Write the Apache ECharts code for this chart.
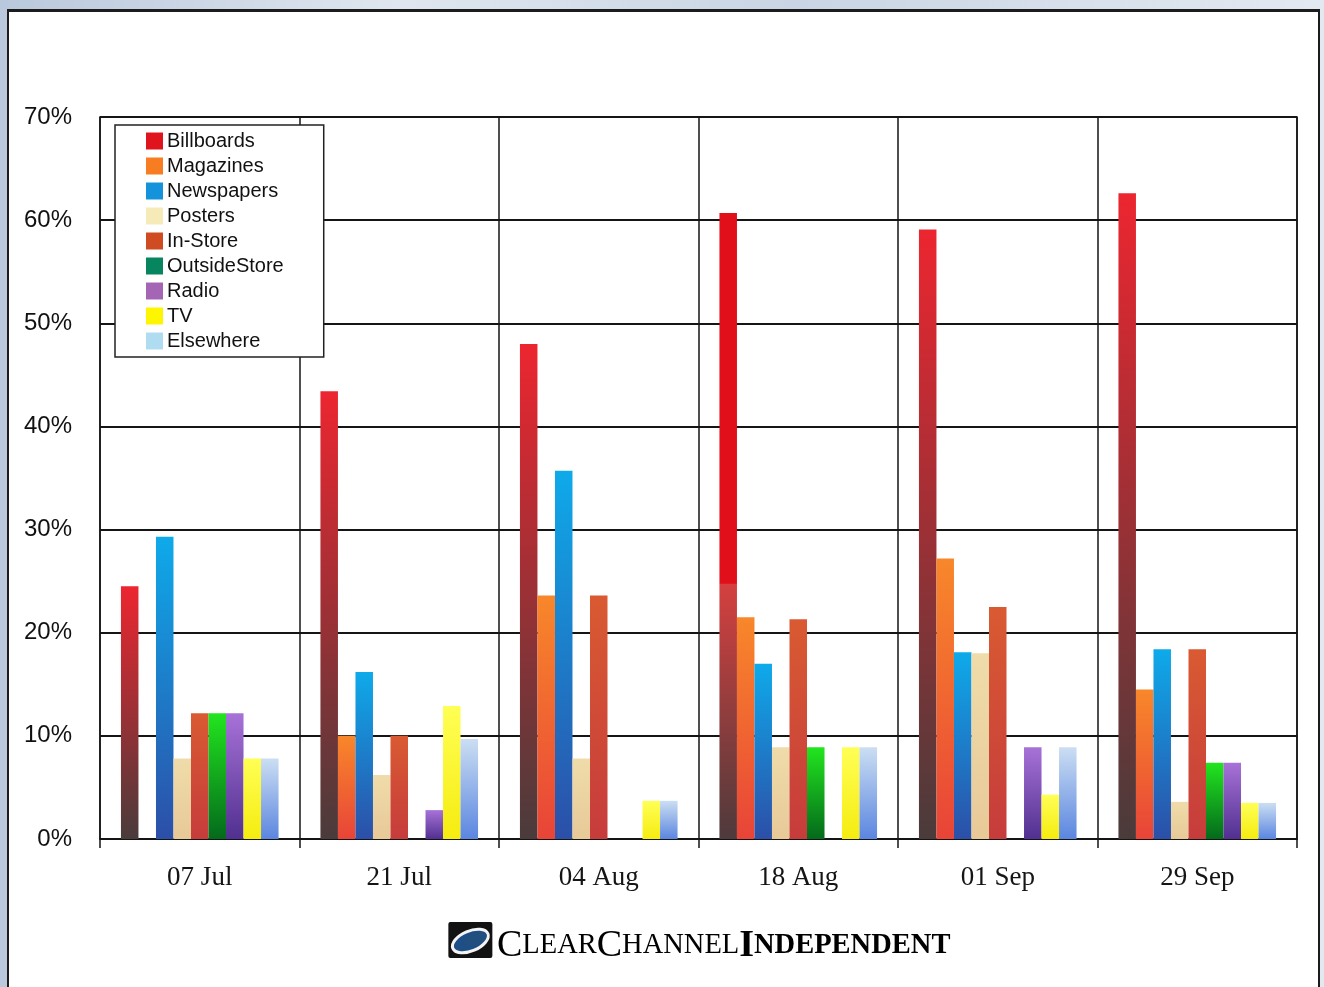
<!DOCTYPE html>
<html>
<head>
<meta charset="utf-8">
<script src="https://cdn.jsdelivr.net/npm/echarts@6/dist/echarts.min.js"></script>
<style>
  html, body { margin: 0; padding: 0; }
  body {
    width: 1324px; height: 987px; overflow: hidden;
    background: linear-gradient(90deg, #b9c8dc 0%, #dfe6ef 30%, #c9d5e4 60%, #e3e9f1 100%);
    position: relative;
  }
  #panel {
    position: absolute; left: 7px; top: 9px; width: 1309px; height: 990px;
    background: #fff; border: 2px solid #1c1c1c; border-top-width: 3px;
  }
  #chart { position: absolute; left: 0; top: 0; width: 1324px; height: 987px; }
</style>
</head>
<body>
<div id="panel"></div>
<div id="chart"></div>
<script>
// categories and tick labels
const categories = ["07 Jul", "21 Jul", "04 Aug", "18 Aug", "01 Sep", "29 Sep"];
const yTicks = [0, 10, 20, 30, 40, 50, 60, 70];

// series values (percent)
const billboards   = [24.5, 43.4, 48.0, 60.7, 59.1, 62.6];
const magazines    = [0, 10.0, 23.6, 21.5, 27.2, 14.5];
const newspapers   = [29.3, 16.2, 35.7, 17.0, 18.1, 18.4];
const posters      = [7.8, 6.2, 7.8, 8.9, 18.0, 3.6];
const inStore      = [12.2, 10.0, 23.6, 21.3, 22.5, 18.4];
const outsideStore = [12.2, 0, 0, 8.9, 0, 7.4];
const radio        = [12.2, 2.8, 0, 0, 8.9, 7.4];
const tv           = [7.8, 12.9, 3.7, 8.9, 4.3, 3.5];
const elsewhere    = [7.8, 9.7, 3.7, 8.9, 8.9, 3.5];
// 18 Aug billboards bar shows an older shaded part up to this level
const billboardsShaded = [null, null, null, 24.8, null, null];

const seriesDefs = [
  { name: "Billboards",   data: billboards,   top: "#ec2630", bottom: "#4a3b3b", legend: "#e0141c" },
  { name: "Magazines",    data: magazines,    top: "#f8872a", bottom: "#e84438", legend: "#f77c22" },
  { name: "Newspapers",   data: newspapers,   top: "#0eaaea", bottom: "#2c4fa8", legend: "#1592dc" },
  { name: "Posters",      data: posters,      top: "#efdcaa", bottom: "#e8c998", legend: "#f6ebb8" },
  { name: "In-Store",     data: inStore,      top: "#d95a32", bottom: "#c63c3c", legend: "#cf4b22" },
  { name: "OutsideStore", data: outsideStore, top: "#22e51e", bottom: "#046a1c", legend: "#07855f" },
  { name: "Radio",        data: radio,        top: "#a872d8", bottom: "#503090", legend: "#a466b4" },
  { name: "TV",           data: tv,           top: "#ffff55", bottom: "#f5ec10", legend: "#fdf600" },
  { name: "Elsewhere",    data: elsewhere,    top: "#cbdef2", bottom: "#5b86e0", legend: "#b0dcf2" },
];

function grad(top, bottom) {
  return new echarts.graphic.LinearGradient(0, 0, 0, 1, [
    { offset: 0, color: top },
    { offset: 1, color: bottom },
  ]);
}

function barData(def) {
  return def.data.map((v, i) => {
    if (def.name === "Billboards" && billboardsShaded[i] != null) {
      const cut = 1 - billboardsShaded[i] / v;
      return {
        value: v,
        itemStyle: {
          color: new echarts.graphic.LinearGradient(0, 0, 0, 1, [
            { offset: 0, color: "#e10f1a" },
            { offset: cut, color: "#e10f1a" },
            { offset: cut + 0.002, color: "#d4403f" },
            { offset: 1, color: "#4e3a3c" },
          ]),
        },
      };
    }
    return v;
  });
}

const chart = echarts.init(document.getElementById("chart"), null, { renderer: "canvas" });

chart.setOption({
  animation: false,
  grid: {
    left: 100, right: 27, top: 117, bottom: 148,
    show: true, borderColor: "#151515", borderWidth: 1.5,
  },
  legend: {
    orient: "vertical",
    left: 115, top: 125,
    padding: [6, 40, 6, 31],
    itemWidth: 17, itemHeight: 17, itemGap: 5,
    backgroundColor: "#fff",
    borderColor: "#222", borderWidth: 1.5,
    selectedMode: false,
    icon: "rect",
    textStyle: { fontFamily: "Liberation Sans", fontSize: 20, color: "#111", padding: [0, 0, 0, -1] },
    data: seriesDefs.map(d => ({ name: d.name, itemStyle: { color: d.legend } })),
  },
  xAxis: {
    type: "category",
    data: categories,
    axisLine: { show: true, lineStyle: { color: "#151515", width: 1.5 } },
    axisTick: { show: true, length: 9, lineStyle: { color: "#151515", width: 1.5 } },
    splitLine: { show: true, lineStyle: { color: "#151515", width: 1.5 } },
    axisLabel: {
      fontFamily: "Liberation Serif", fontSize: 27, color: "#151515", margin: 25,
    },
  },
  yAxis: {
    type: "value",
    min: yTicks[0], max: yTicks[yTicks.length - 1], interval: 10,
    axisLine: { show: false },
    axisTick: { show: false },
    splitLine: { lineStyle: { color: "#151515", width: 2 } },
    axisLabel: {
      formatter: "{value}%",
      fontFamily: "Liberation Sans", fontSize: 24, color: "#111", margin: 28,
    },
  },
  series: seriesDefs.map(d => ({
    name: d.name,
    type: "bar",
    data: barData(d),
    barGap: "0%",
    barCategoryGap: "21%",
    itemStyle: { color: grad(d.top, d.bottom) },
  })),
  graphic: [
    {
      type: "group",
      left: 447, top: 922,
      children: [
        { type: "rect", shape: { x: 0, y: 0, width: 44, height: 36, r: 2 }, style: { fill: "#121212" } },
        {
          type: "ellipse", shape: { cx: 22, cy: 19, rx: 19, ry: 10 }, rotation: 0.4, originX: 22, originY: 19,
          style: { fill: "#1d4f86", stroke: "#f4f4f4", lineWidth: 3 },
        },
        {
          type: "ellipse", shape: { cx: 27, cy: 17, rx: 12, ry: 6 }, rotation: 0.4, originX: 27, originY: 17,
          style: { fill: "#234f80" },
        },
      ],
    },
    {
      type: "text",
      left: 497, top: 927,
      style: {
        text: "{b|C}{s|LEAR}{b|C}{s|HANNEL}{B|I}{S|NDEPENDENT}",
        rich: {
          b: { fontFamily: "Liberation Serif", fontSize: 38, color: "#111" },
          s: { fontFamily: "Liberation Serif", fontSize: 28.5, color: "#111" },
          B: { fontFamily: "Liberation Serif", fontSize: 38, fontWeight: "bold", color: "#111" },
          S: { fontFamily: "Liberation Serif", fontSize: 28.5, fontWeight: "bold", color: "#111" },
        },
      },
    },
  ],
});
</script>
</body>
</html>
